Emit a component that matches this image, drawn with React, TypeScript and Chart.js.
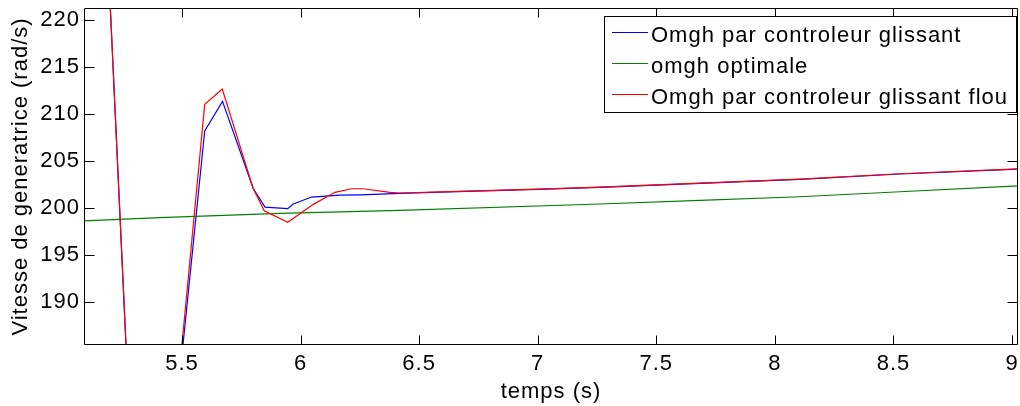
import React, { useEffect, useRef } from 'react';
import { Chart, registerables } from 'chart.js';

Chart.register(...registerables);

// ---- data ----
const xTicks = [5.5, 6, 6.5, 7, 7.5, 8, 8.5, 9];
const yTicks = [190, 195, 200, 205, 210, 215, 220];
const xMin = 5.087;
const xMax = 9.025;
const yMin = 185.43;
const yMax = 221.28;

const seriesLabels = [
  'Omgh par controleur glissant',
  'omgh optimale',
  'Omgh par controleur glissant flou',
];
const seriesColors = ['#0000ff', '#008000', '#ff0000'];

const blueT = [5.18, 5.3, 5.44, 5.596, 5.671, 5.8, 5.85, 5.946, 5.969, 6.047, 6.166, 6.25, 6.419, 6.7, 7.0, 7.262, 7.684, 8.105, 8.527, 9.03];
const blueV = [231, 166, 169.5, 208.2, 211.35, 202.1, 200.1, 199.93, 200.43, 201.17, 201.38, 201.41, 201.56, 201.77, 201.99, 202.2, 202.63, 203.05, 203.62, 204.15];

const greenT = [5.08, 5.407, 5.913, 6.419, 7.262, 7.684, 8.105, 8.527, 9.03];
const greenV = [198.62, 198.97, 199.44, 199.76, 200.43, 200.82, 201.2, 201.73, 202.37];

const redT = [5.18, 5.3, 5.44, 5.596, 5.67, 5.8, 5.847, 5.946, 6.054, 6.145, 6.215, 6.264, 6.377, 6.419, 6.7, 7.0, 7.262, 7.684, 8.105, 8.527, 9.03];
const redV = [231, 166, 169.5, 211.03, 212.66, 202.1, 199.71, 198.48, 200.39, 201.67, 202.05, 202.05, 201.67, 201.6, 201.8, 202.02, 202.23, 202.66, 203.08, 203.65, 204.18];

const FAMILY = "'Liberation Sans', Arial, sans-serif";
const FONT_SIZE = 22;

const toPoints = (t: number[], v: number[]) => t.map((x, i) => ({ x, y: v[i] }));

const setSpacing = (chart: any) => {
  try {
    (chart.ctx as any).letterSpacing = '1px';
  } catch (e) {}
};

const matlabPlugin = {
  id: 'matlabFrame',
  beforeUpdate(chart: any) { setSpacing(chart); },
  beforeLayout(chart: any) { setSpacing(chart); },
  beforeDraw(chart: any) { setSpacing(chart); },
  afterDatasetsDraw(chart: any) {
    const { ctx, chartArea } = chart;
    const xs = chart.scales.x;
    const ys = chart.scales.y;
    const L = Math.round(chartArea.left) + 0.5;
    const R = Math.round(chartArea.right) - 0.5;
    const T = Math.round(chartArea.top) + 0.5;
    const B = Math.round(chartArea.bottom) - 0.5;
    ctx.save();
    ctx.strokeStyle = '#000';
    ctx.lineWidth = 1;
    ctx.beginPath();
    ctx.rect(L, T, R - L, B - T);
    ctx.stroke();
    ctx.beginPath();
    xTicks.forEach((v) => {
      const px = Math.round(xs.getPixelForValue(v)) + 0.5;
      ctx.moveTo(px, B);
      ctx.lineTo(px, B - 9);
      ctx.moveTo(px, T);
      ctx.lineTo(px, T + 9);
    });
    yTicks.forEach((v) => {
      const py = Math.round(ys.getPixelForValue(v)) + 0.5;
      ctx.moveTo(L, py);
      ctx.lineTo(L + 10, py);
      ctx.moveTo(R, py);
      ctx.lineTo(R - 10, py);
    });
    ctx.stroke();
    ctx.restore();
  },
  afterDraw(chart: any) {
    const { ctx } = chart;
    ctx.save();
    (ctx as any).letterSpacing = '1px';
    const bx = 604.5, by = 16.5, bw = 412, bh = 96;
    ctx.fillStyle = '#fff';
    ctx.fillRect(bx, by, bw, bh);
    ctx.strokeStyle = '#000';
    ctx.lineWidth = 1;
    ctx.strokeRect(bx, by, bw, bh);
    ctx.font = `${FONT_SIZE}px ${FAMILY}`;
    ctx.textBaseline = 'alphabetic';
    ctx.textAlign = 'left';
    const rowY = [32.5, 63.5, 94.5];
    seriesLabels.forEach((lab, i) => {
      ctx.strokeStyle = seriesColors[i];
      ctx.lineWidth = 1.2;
      ctx.beginPath();
      ctx.moveTo(612, rowY[i]);
      ctx.lineTo(648, rowY[i]);
      ctx.stroke();
      ctx.fillStyle = '#000';
      ctx.fillText(lab, 651, rowY[i] + 9.5);
    });
    ctx.restore();
  },
};

export default function App() {
  const ref = useRef<HTMLCanvasElement | null>(null);

  useEffect(() => {
    document.body.style.margin = '0';
    const canvas = ref.current;
    if (!canvas) return;
    const font = { family: FAMILY, size: FONT_SIZE };
    const chart = new Chart(canvas, {
      type: 'line',
      data: {
        datasets: [
          {
            label: seriesLabels[0],
            data: toPoints(blueT, blueV),
            borderColor: seriesColors[0],
            borderWidth: 1.2,
            pointRadius: 0,
            tension: 0,
            fill: false,
            clip: 0,
            order: 2,
          },
          {
            label: seriesLabels[1],
            data: toPoints(greenT, greenV),
            borderColor: seriesColors[1],
            borderWidth: 1.2,
            pointRadius: 0,
            tension: 0,
            fill: false,
            clip: 0,
            order: 1,
          },
          {
            label: seriesLabels[2],
            data: toPoints(redT, redV),
            borderColor: seriesColors[2],
            borderWidth: 1.2,
            pointRadius: 0,
            tension: 0,
            fill: false,
            clip: 0,
            order: 0,
          },
        ],
      },
      options: {
        responsive: false,
        maintainAspectRatio: false,
        animation: false,
        devicePixelRatio: 1,
        layout: { padding: { top: 8, right: 2, left: 0, bottom: 0 } },
        plugins: {
          legend: { display: false },
          tooltip: { enabled: false },
          title: { display: false },
        },
        scales: {
          x: {
            type: 'linear',
            min: xMin,
            max: xMax,
            afterBuildTicks: (s: any) => {
              s.ticks = xTicks.map((v) => ({ value: v }));
            },
            afterFit: (s: any) => {
              s.height = 61;
              s.paddingLeft = 0;
              s.paddingRight = 0;
            },
            grid: { display: false, drawTicks: false },
            border: { display: false },
            ticks: {
              color: '#000',
              font,
              padding: 6,
              maxRotation: 0,
              autoSkip: false,
              callback: (v: any) => String(v),
            },
            title: {
              display: true,
              text: 'temps (s)',
              color: '#000',
              font,
              padding: { top: 0, bottom: 1 },
            },
          },
          y: {
            type: 'linear',
            min: yMin,
            max: yMax,
            afterBuildTicks: (s: any) => {
              s.ticks = yTicks.map((v) => ({ value: v }));
            },
            afterFit: (s: any) => {
              s.width = 84;
              s.paddingTop = 0;
              s.paddingBottom = 0;
            },
            grid: { display: false, drawTicks: false },
            border: { display: false },
            ticks: {
              color: '#000',
              font,
              padding: 4,
              autoSkip: false,
              callback: (v: any) => String(v),
            },
            title: {
              display: true,
              text: 'Vitesse de generatrice (rad/s)',
              color: '#000',
              font,
              padding: { top: 8, bottom: 0 },
            },
          },
        },
      },
      plugins: [matlabPlugin],
    } as any);
    return () => chart.destroy();
  }, []);

  return (
    <div style={{ width: 1020, height: 406, position: 'relative', background: '#fff' }}>
      <canvas ref={ref} width={1020} height={406} style={{ display: 'block' }} />
    </div>
  );
}
